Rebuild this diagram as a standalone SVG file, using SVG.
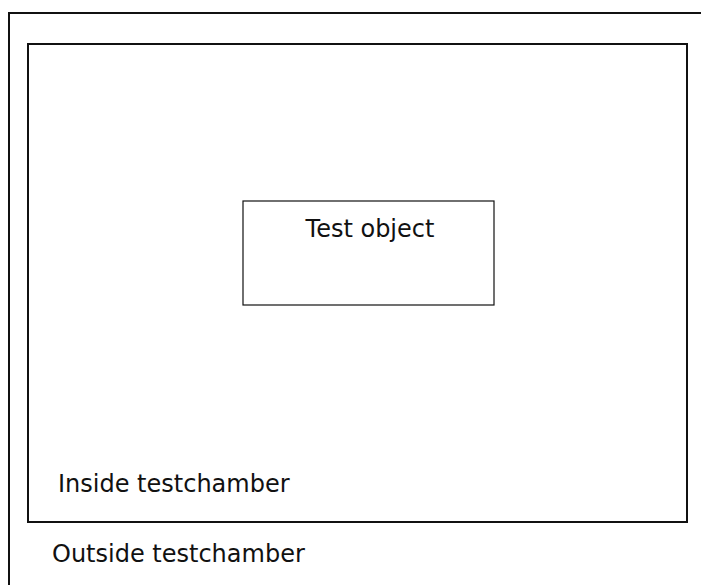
<svg xmlns="http://www.w3.org/2000/svg" width="701" height="585" viewBox="0 0 701 585">
<style>
.t{font-family:"DejaVu Sans","Liberation Sans",sans-serif;font-size:24px;fill:#111}
.b{fill:none;stroke:#111}
</style>
<rect width="701" height="585" fill="#fff"/>
<g id="outside">
<path class="b" stroke-width="2" d="M9,590 V13 H706"/>
<text class="t" x="52" y="562">Outside testchamber</text>
</g>
<g id="inside">
<rect class="b" stroke-width="2" x="28" y="44" width="659" height="478"/>
<text class="t" x="58" y="492">Inside testchamber</text>
</g>
<g id="testobject">
<rect class="b" stroke-width="1.2" x="243" y="201" width="251" height="104"/>
<text class="t" x="370" y="237" text-anchor="middle">Test object</text>
</g>
<g id="connectors"/>
</svg>
